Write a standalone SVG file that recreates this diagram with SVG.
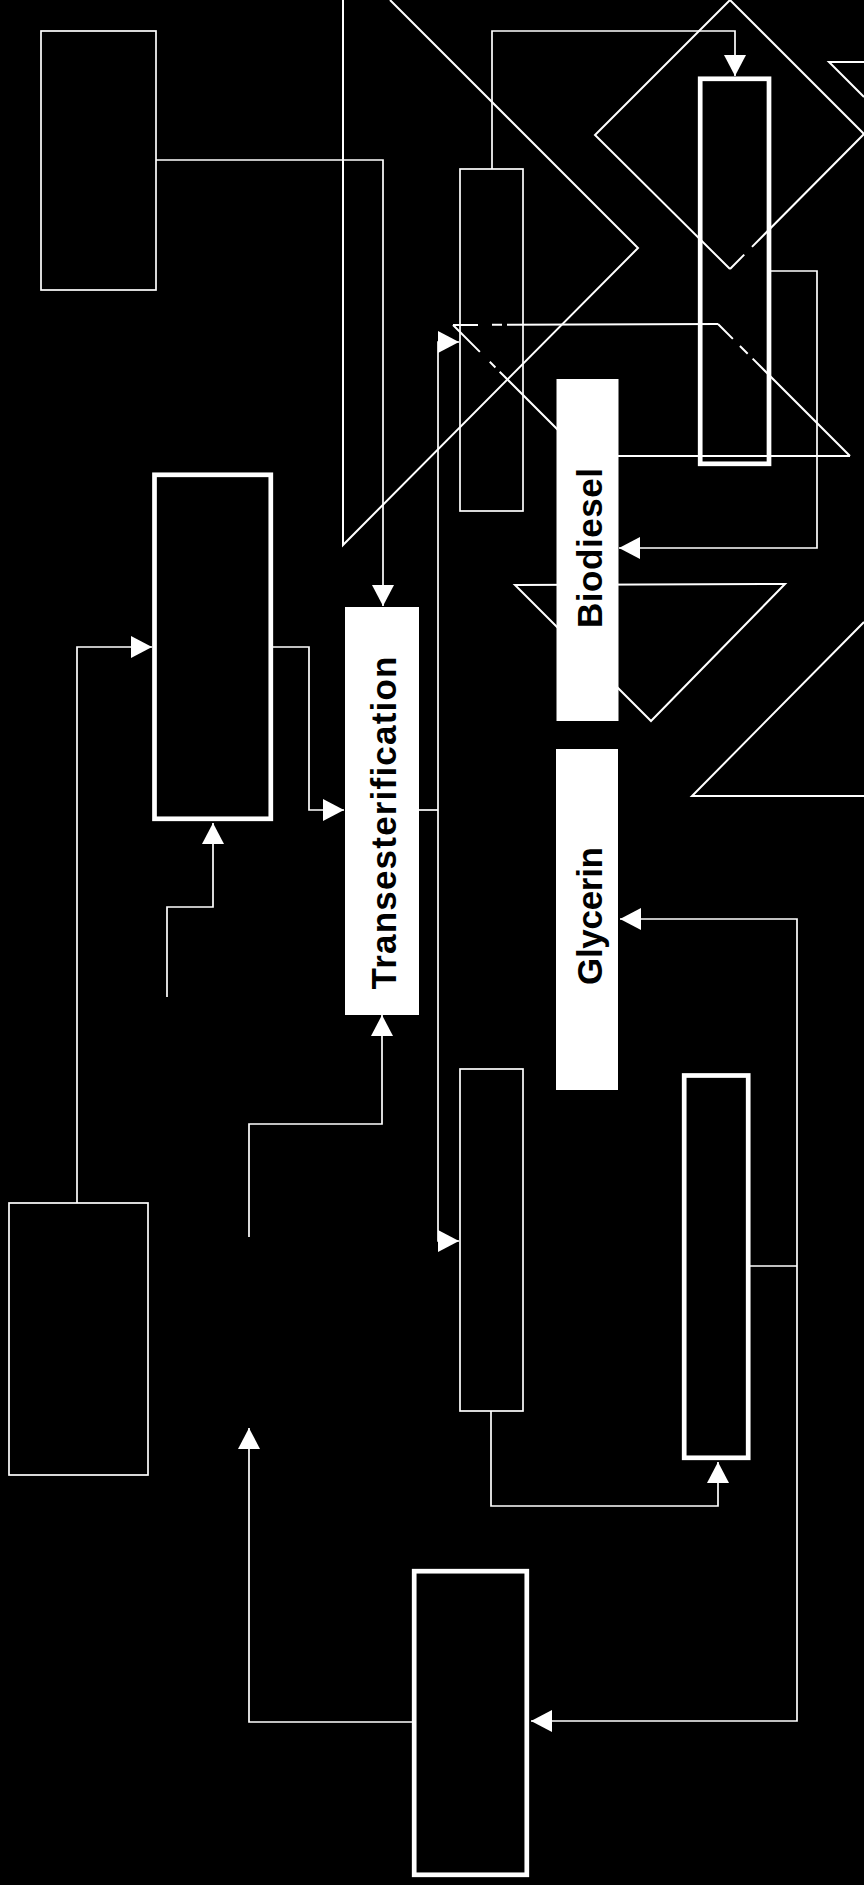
<svg xmlns="http://www.w3.org/2000/svg" width="864" height="1885" viewBox="0 0 864 1885">
<style>
.bg{fill:#000}
.thin{fill:none;stroke:#fff;stroke-width:1.7}
.thick{fill:none;stroke:#fff;stroke-width:4.7}
.line{fill:none;stroke:#fff;stroke-width:1.7}
.deco{fill:none;stroke:#fff;stroke-width:2}
.label{fill:#fff}
.lt{font-family:"Liberation Sans",Arial,sans-serif;font-weight:bold;font-size:35px;fill:#000;text-anchor:middle}
</style>
<defs>
<marker id="ah" markerUnits="userSpaceOnUse" markerWidth="21" markerHeight="22" refX="21" refY="11" orient="auto">
<path d="M0,0 L21,11 L0,22 Z" fill="#fff"/>
</marker>
</defs>
<rect class="bg" x="0" y="0" width="864" height="1885"/>

<g id="shapes">
<polyline class="deco" points="343,0 343,545 638,248 390,0"/>
<polyline class="deco" points="864,134 730,0 595,135 730,269"/>
<line class="deco" x1="864" y1="134" x2="730" y2="269" stroke-dasharray="159 11 200"/>
<polyline class="deco" points="864,62 829,62 864,97"/>
<line class="deco" x1="453" y1="325" x2="718" y2="324" stroke-dasharray="25 14 10 5 400"/>
<line class="deco" x1="718" y1="324" x2="850" y2="456" stroke-dasharray="21 10 11 7 300"/>
<line class="deco" x1="850" y1="456" x2="584" y2="456"/>
<line class="deco" x1="453" y1="325" x2="584" y2="456" stroke-dasharray="38 14 8 6 300"/>
<polygon class="deco" points="515,585 785,584 651,721"/>
<polyline class="deco" points="864,622 692,796 864,796"/>
</g>

<g id="connectors">
<path class="line" d="M156,160 H383 V606" marker-end="url(#ah)"/>
<path class="line" d="M492,169 V31 H735 V76" marker-end="url(#ah)"/>
<path class="line" d="M771,271 H817 V548 H619" marker-end="url(#ah)"/>
<path class="line" d="M419,810 H438"/>
<path class="line" d="M438,810 V342 H459" marker-end="url(#ah)"/>
<path class="line" d="M438,810 V1241 H459" marker-end="url(#ah)"/>
<path class="line" d="M273,647 H309 V810 H344" marker-end="url(#ah)"/>
<path class="line" d="M77,1203 V647 H152" marker-end="url(#ah)"/>
<path class="line" d="M167,997 V907 H213 V823" marker-end="url(#ah)"/>
<path class="line" d="M249,1237 V1124 H382 V1015" marker-end="url(#ah)"/>
<path class="line" d="M412,1722 H249 V1428" marker-end="url(#ah)"/>
<path class="line" d="M750,1266 H797"/>
<path class="line" d="M797,1266 V919 H620" marker-end="url(#ah)"/>
<path class="line" d="M797,1266 V1721 H531" marker-end="url(#ah)"/>
<path class="line" d="M491,1411 V1506 H718 V1462" marker-end="url(#ah)"/>
</g>

<g id="nodeA"><rect class="thin" x="41" y="31" width="115" height="259"/></g>
<g id="nodeB"><rect class="thick" x="700.2" y="78.8" width="68.8" height="385"/></g>
<g id="nodeC"><rect class="thin" x="460" y="169" width="63" height="342"/></g>
<g id="nodeD"><rect class="thin" x="460" y="1069" width="63" height="342"/></g>
<g id="nodeE"><rect class="thick" x="154.5" y="474.8" width="116.3" height="344"/></g>
<g id="nodeF"><rect class="thin" x="9" y="1203" width="139" height="272"/></g>
<g id="nodeG"><rect class="thick" x="684.2" y="1075.5" width="64" height="382.3"/></g>
<g id="nodeH"><rect class="thick" x="414.2" y="1571.2" width="112.6" height="303.6"/></g>

<g id="transesterification">
<rect class="label" x="345" y="607" width="74" height="408"/>
<text class="lt" transform="translate(396,823) rotate(-90)" textLength="333" lengthAdjust="spacing">Transesterification</text>
</g>
<g id="biodiesel">
<rect class="label" x="556.5" y="379" width="62" height="342"/>
<text class="lt" transform="translate(602,548) rotate(-90)" textLength="160" lengthAdjust="spacing">Biodiesel</text>
</g>
<g id="glycerin">
<rect class="label" x="556" y="749" width="62" height="341"/>
<text class="lt" transform="translate(602,916) rotate(-90)" textLength="138" lengthAdjust="spacing">Glycerin</text>
</g>
</svg>
